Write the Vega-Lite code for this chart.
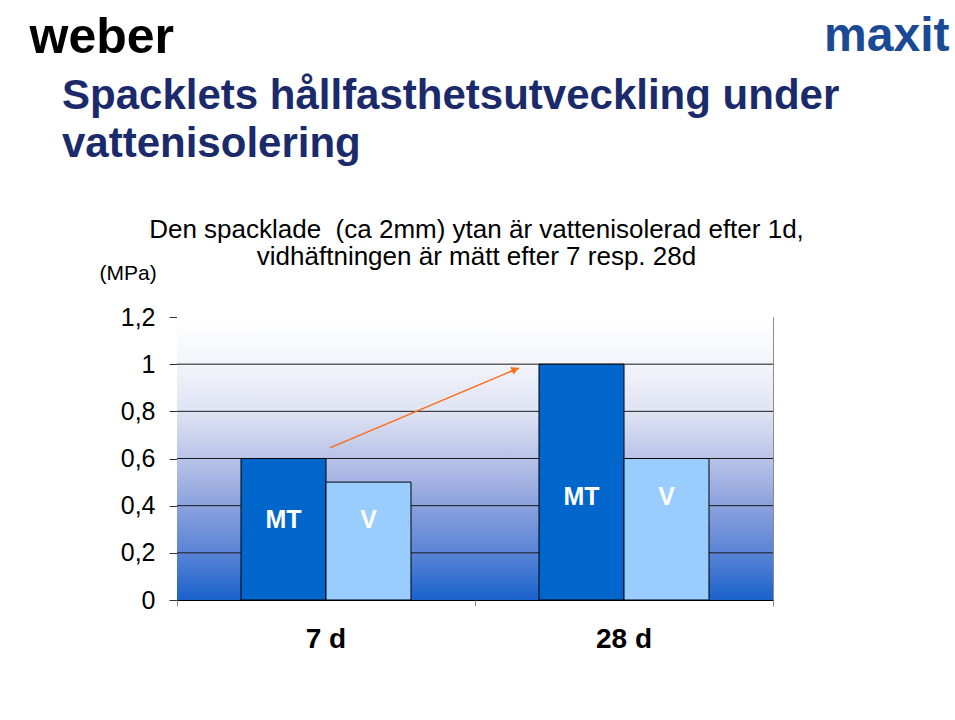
{
  "$schema": "https://vega.github.io/schema/vega-lite/v6.json",
  "width": 596,
  "height": 283,
  "autosize": "none",
  "padding": {"left": 177, "top": 317, "right": 182, "bottom": 120},
  "background": "white",
  "config": {
    "font": "Liberation Sans",
    "view": {"stroke": "#8c8c8c", "strokeWidth": 1}
  },
  "title": {
    "text": ["Spacklets hållfasthetsutveckling under", "vattenisolering"],
    "anchor": "start",
    "frame": "group",
    "dx": -115,
    "dy": 154,
    "fontSize": 42,
    "fontWeight": "bold",
    "color": "#1b2a6b",
    "lineHeight": 48,
    "baseline": "top",
    "offset": 0
  },
  "datasets": {
    "bars": [
      {"period": "7 d", "series": "MT", "value": 0.6},
      {"period": "7 d", "series": "V", "value": 0.5},
      {"period": "28 d", "series": "MT", "value": 1.0},
      {"period": "28 d", "series": "V", "value": 0.6}
    ],
    "grid": [{"v": 0.2}, {"v": 0.4}, {"v": 0.6}, {"v": 0.8}, {"v": 1.0}],
    "arrow": [{"ax": 0.513, "ay": 0.645}, {"ax": 1.148, "ay": 0.984}],
    "arrowhead": [{"ax": 1.135, "ay": 0.978}]
  },
  "layer": [
    {
      "layer": [
        {
          "data": {"values": [{"part": "plot"}]},
          "mark": {
            "type": "rect",
            "color": {
              "gradient": "linear",
              "x1": 0, "y1": 0, "x2": 0, "y2": 1,
              "stops": [
                {"offset": 0, "color": "#ffffff"},
                {"offset": 0.167, "color": "#f3f4fa"},
                {"offset": 0.333, "color": "#dfe3f3"},
                {"offset": 0.5, "color": "#b9c3e8"},
                {"offset": 0.667, "color": "#8ba1dd"},
                {"offset": 0.833, "color": "#5a84d6"},
                {"offset": 1, "color": "#1a62cc"}
              ]
            }
          },
          "encoding": {
            "y": {"datum": 0, "type": "quantitative"},
            "y2": {"datum": 1.2}
          }
        },
        {
          "data": {"name": "grid"},
          "mark": {"type": "rule", "color": "#1a1a1a", "strokeWidth": 1},
          "encoding": {"y": {"field": "v", "type": "quantitative"}}
        },
        {
          "data": {"name": "bars"},
          "mark": {"type": "bar", "stroke": "#000000", "strokeWidth": 1},
          "encoding": {
            "x": {
              "field": "period",
              "type": "nominal",
              "sort": null,
              "scale": {"paddingInner": 0, "paddingOuter": 0},
              "axis": {
                "title": ["Den spacklade \u00a0(ca 2mm) ytan är vattenisolerad efter 1d,", "vidhäftningen är mätt efter 7 resp. 28d"],
                "titleFontSize": 26,
                "titleFontWeight": "normal",
                "titleColor": "#000000",
                "titleX": 299,
                "titleY": -384,
                "titleAlign": "center",
                "titleBaseline": "top",
                "titleLineHeight": 27,
                "labelAngle": 0,
                "labelFontSize": 28,
                "labelFontWeight": "bold",
                "labelColor": "#000000",
                "labelPadding": 25,
                "ticks": false,
                "domainColor": "#000000",
                "grid": false
              }
            },
            "xOffset": {
              "field": "series",
              "type": "nominal",
              "scale": {"paddingInner": 0, "paddingOuter": 0.753}
            },
            "y": {
              "field": "value",
              "type": "quantitative",
              "scale": {"domain": [0, 1.2], "nice": false},
              "axis": {
                "title": "(MPa)",
                "titleAngle": 0,
                "titleFontSize": 21,
                "titleFontWeight": "normal",
                "titleColor": "#000000",
                "titleAlign": "left",
                "titleBaseline": "middle",
                "titleX": -78,
                "titleY": -44,
                "values": [0, 0.2, 0.4, 0.6, 0.8, 1.0, 1.2],
                "labelExpr": "replace(format(datum.value, '~g'), '.', ',')",
                "labelFontSize": 25,
                "labelColor": "#000000",
                "labelPadding": 14,
                "tickSize": 8,
                "tickColor": "#333333",
                "domainColor": "#777777",
                "grid": false
              }
            },
            "color": {
              "field": "series",
              "type": "nominal",
              "scale": {"domain": ["MT", "V"], "range": ["#0066cc", "#99ccff"]},
              "legend": null
            }
          }
        },
        {
          "data": {"name": "bars"},
          "transform": [
            {"joinaggregate": [{"op": "min", "field": "value", "as": "groupmin"}], "groupby": ["period"]}
          ],
          "mark": {"type": "text", "color": "white", "fontSize": 25, "fontWeight": "bold", "baseline": "middle", "dy": 38},
          "encoding": {
            "x": {"field": "period", "type": "nominal", "sort": null},
            "xOffset": {"field": "series", "type": "nominal"},
            "y": {"field": "groupmin", "type": "quantitative"},
            "text": {"field": "series"}
          }
        }
      ]
    },
    {
      "layer": [
        {
          "data": {"name": "arrow"},
          "mark": {"type": "line", "color": "#ff6a13", "strokeWidth": 1.5},
          "encoding": {
            "x": {
              "field": "ax",
              "type": "quantitative",
              "scale": {"domain": [0, 2], "nice": false, "zero": false},
              "axis": {
                "orient": "top",
                "offset": -283,
                "values": [0, 1, 2],
                "title": "weber",
                "titleFontSize": 50,
                "titleFontWeight": "bold",
                "titleColor": "#000000",
                "titleAlign": "left",
                "titleBaseline": "alphabetic",
                "titleX": -148,
                "titleY": -548,
                "labels": false,
                "ticks": true,
                "tickSize": -6,
                "tickColor": "#888888",
                "domain": false,
                "grid": false
              }
            },
            "y": {
              "field": "ay",
              "type": "quantitative",
              "scale": {"domain": [0, 1.2], "nice": false, "zero": false},
              "axis": {
                "orient": "right",
                "title": "maxit",
                "titleAngle": 0,
                "titleFontSize": 48,
                "titleFontWeight": "bold",
                "titleColor": "#1b4a94",
                "titleAlign": "right",
                "titleBaseline": "alphabetic",
                "titleX": 176,
                "titleY": -267,
                "labels": false,
                "ticks": false,
                "domain": false,
                "grid": false
              }
            }
          }
        },
        {
          "data": {"name": "arrowhead"},
          "mark": {"type": "point", "shape": "triangle-right", "filled": true, "color": "#ff6a13", "opacity": 1, "size": 70, "angle": 337},
          "encoding": {
            "x": {"field": "ax", "type": "quantitative"},
            "y": {"field": "ay", "type": "quantitative"}
          }
        }
      ]
    }
  ],
  "resolve": {"scale": {"x": "independent", "y": "independent"}}
}
